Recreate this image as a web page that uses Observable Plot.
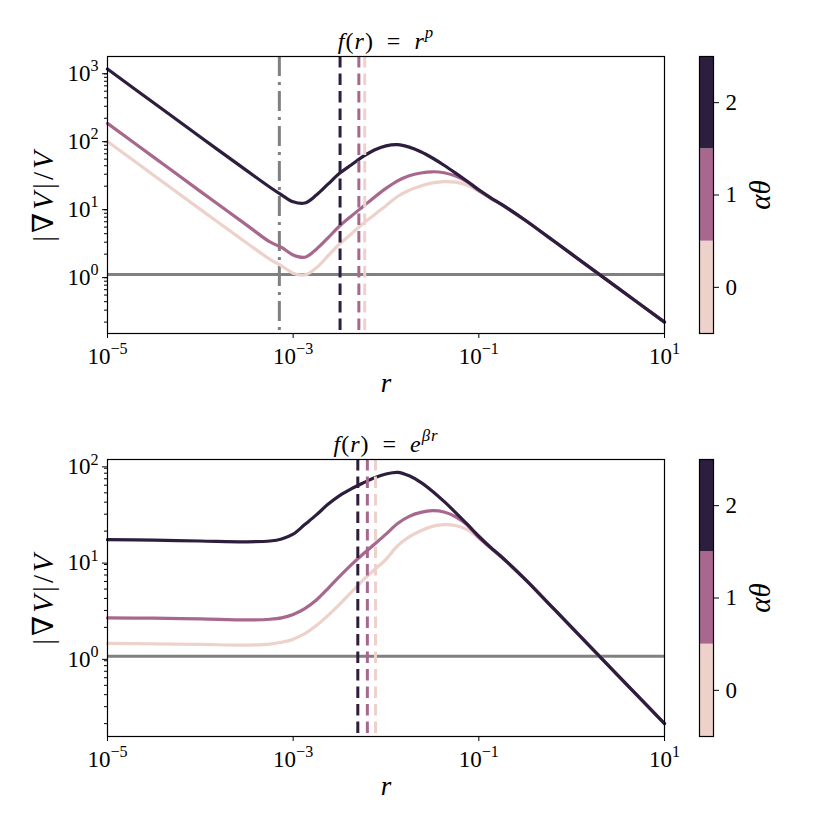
<!DOCTYPE html>
<html><head><meta charset="utf-8">
<script src="https://cdn.jsdelivr.net/npm/d3@7"></script>
<script src="https://cdn.jsdelivr.net/npm/@observablehq/plot@0.6"></script>
<style>
html,body{margin:0;padding:0;background:#fff;}
#fig{position:relative;width:830px;height:830px;overflow:hidden;background:#fff;}
#fig svg{position:absolute;overflow:visible;}
</style></head><body><div id="fig"></div>
<script>
// r grid (read positions along the log axis)
const rValues = [1e-5, 3.162e-5, 1e-4, 3.162e-4, 5.623e-4, 7.499e-4, 1e-3, 1.334e-3, 1.778e-3, 2.371e-3,
  3.162e-3, 4.217e-3, 5.623e-3, 7.499e-3, 1e-2, 1.334e-2, 1.778e-2, 2.371e-2, 3.162e-2, 4.217e-2,
  5.623e-2, 7.499e-2, 1e-1, 1.334e-1, 1.778e-1, 3.162e-1, 5.623e-1, 1, 3.162, 10];

const alphaTheta = [0, 1, 2];
const colors = ["#edd1cb", "#a8688e", "#2d1e3e"];

// Top panel: f(r) = r^p
const powerLight = [91.2, 28.8, 9.12, 2.92, 1.68, 1.35, 1.05, 0.989, 1.26, 1.88,
  2.82, 3.96, 5.62, 7.59, 10.35, 14.1, 17.4, 20.2, 22.4, 23.4,
  22.9, 20.7, 16.9, 13.5, 10.5, 6.28, 3.55, 2.0, 0.63, 0.2];
const powerMid = [168, 53.1, 16.8, 5.35, 3.02, 2.51, 1.95, 1.80, 2.37, 3.47,
  5.19, 7.24, 10.0, 13.8, 18.6, 24.0, 28.5, 31.3, 32.6, 31.6,
  28.2, 23.2, 17.2, 13.4, 10.6, 6.30, 3.56, 2.0, 0.632, 0.2];
const powerDark = [1059, 335, 106, 33.9, 19.3, 14.9, 11.8, 11.3, 14.8, 21.4,
  30.9, 41.0, 54.3, 68.1, 78.5, 81.7, 75.2, 64.3, 52.0, 40.7,
  31.2, 23.6, 17.7, 13.6, 10.7, 6.31, 3.56, 2.0, 0.632, 0.2];

// Bottom panel: f(r) = e^{beta r}
const expLight = [1.365, 1.35, 1.33, 1.31, 1.34, 1.40, 1.51, 1.72, 2.09, 2.66,
  3.47, 4.62, 6.17, 7.94, 10.2, 14.1, 17.4, 20.2, 22.4, 23.4,
  22.9, 20.7, 16.9, 13.5, 10.5, 6.28, 3.55, 2.0, 0.63, 0.2];
const expMid = [2.51, 2.49, 2.45, 2.39, 2.43, 2.51, 2.72, 3.13, 3.85, 5.07,
  6.76, 8.91, 11.5, 14.6, 18.6, 24.0, 28.5, 31.3, 32.6, 31.6,
  28.2, 23.2, 17.2, 13.4, 10.6, 6.30, 3.56, 2.0, 0.632, 0.2];
const expDark = [16.3, 16.1, 15.8, 15.5, 15.8, 16.6, 18.6, 23.4, 29.5, 38.0,
  46.8, 55.0, 63.1, 71.6, 78.5, 81.7, 75.2, 64.3, 52.0, 40.7,
  31.2, 23.6, 17.7, 13.6, 10.7, 6.31, 3.56, 2.0, 0.632, 0.2];

// vertical markers (per alpha*theta: 0, 1, 2)
const powerRc = [5.9e-3, 5.1e-3, 3.2e-3];
const powerRcut = [7.1e-4];
const expRc = [7.7e-3, 6.3e-3, 4.97e-3];
const unitLevel = [1];

const xTicks = [1e-5, 1e-3, 1e-1, 1e1];
const yTicksTop = [1, 10, 100, 1000];
const yTicksBottom = [1, 10, 100];
const cbTicks = [0, 1, 2];
const titles = ["*f*(*r*)\u2002=\u2002*r*^{*p*}", "*f*(*r*)\u2002=\u2002*e*^{*βr*}"];
const xLabel = "*r*";
const yLabel = "|∇*V*|/*V*";
const cbLabel = "*αθ*";

const FONT = "'Liberation Serif', 'DejaVu Serif', serif";
const NS = "http://www.w3.org/2000/svg";

function addParts(parent, s) {
  const re = /\*([^*]+)\*|([^*]+)/g; let m;
  while ((m = re.exec(s))) {
    const t = document.createElementNS(NS, "tspan");
    if (m[1] !== undefined) { t.setAttribute("font-style", "italic"); t.textContent = m[1]; }
    else t.textContent = m[2];
    parent.appendChild(t);
  }
}
function rich(el, s) {
  while (el.firstChild) el.removeChild(el.firstChild);
  const re = /\^\{([^}]*)\}|([^^]+)/g; let m;
  while ((m = re.exec(s))) {
    if (m[1] !== undefined) {
      const sup = document.createElementNS(NS, "tspan");
      sup.setAttribute("dy", "-0.6em");
      sup.setAttribute("font-size", "70%");
      addParts(sup, m[1]);
      el.appendChild(sup);
    } else addParts(el, m[2]);
  }
}
function richify(svg) {
  svg.querySelectorAll("text").forEach(t => {
    const s = t.textContent;
    if (s === yLabel) t.setAttribute("letter-spacing", "3");
    if (titles.includes(s)) t.setAttribute("letter-spacing", "1");
    if (/[\^*]/.test(s)) rich(t, s);
  });
}
const expFmt = d => `10^{${String(Math.round(Math.log10(d))).replace("-", "−")}}`;

function minorTicks(lo, hi) {
  const out = [];
  for (let e = -1; e <= 3; e++) for (let k = 2; k <= 9; k++) {
    const v = k * Math.pow(10, e);
    if (v >= lo && v <= hi) out.push(v);
  }
  return out;
}

function panel(series, rc, cut, yDomain, yMajor, title) {
  const rows = [];
  series.forEach((ys, k) => ys.forEach((y, i) => rows.push({r: rValues[i], y, k: alphaTheta[k]})));
  const rcRows = rc.map((r, k) => ({r, k: alphaTheta[k]}));
  const svg = Plot.plot({
    width: 700, height: 415,
    marginLeft: 107, marginRight: 36, marginTop: 56, marginBottom: 82,
    style: {fontFamily: FONT, fontSize: "23px", color: "#000", background: "transparent", overflow: "visible"},
    x: {type: "log", domain: [1e-5, 10]},
    y: {type: "log", domain: yDomain},
    color: {type: "ordinal", domain: alphaTheta, range: colors},
    marks: [
      Plot.ruleY(unitLevel, {stroke: "#808080", strokeWidth: 3}),
      cut ? Plot.ruleX(cut, {stroke: "#808080", strokeWidth: 3, strokeDasharray: "20,6,3,6"}) : null,
      Plot.line(rows, {x: "r", y: "y", z: "k", stroke: "k", strokeWidth: 3.2, curve: "catmull-rom"}),
      Plot.ruleX(rcRows, {x: "r", stroke: "k", strokeWidth: 3, strokeDasharray: "11.5,6"}),
      Plot.frame({stroke: "#000", strokeWidth: 1.2}),
      Plot.axisX({ticks: xTicks, tickSize: 5, tickPadding: 9, tickFormat: expFmt, label: null}),
      Plot.axisY({ticks: yMajor, tickSize: 5, tickPadding: 4, dy: 3, tickFormat: expFmt, label: null}),
      Plot.axisY({ticks: minorTicks(yDomain[0], yDomain[1]), tickSize: 3, tickFormat: () => "", label: null}),
      Plot.text([title], {text: d => d, frameAnchor: "top", dy: -8, lineAnchor: "bottom", textAnchor: "middle", fontSize: 24}),
      Plot.text([xLabel], {text: d => d, frameAnchor: "bottom", dy: 58, lineAnchor: "bottom", textAnchor: "middle", fontSize: 27}),
      Plot.text([yLabel], {text: d => d, frameAnchor: "left", dx: -64, rotate: -90, textAnchor: "middle", fontSize: 29})
    ]
  });
  richify(svg);
  return svg;
}

function colorbar() {
  const svg = Plot.plot({
    width: 130, height: 415,
    marginLeft: 19, marginRight: 97, marginTop: 56, marginBottom: 82,
    style: {fontFamily: FONT, fontSize: "23px", color: "#000", background: "transparent", overflow: "visible"},
    x: {domain: [0, 1], axis: null},
    y: {domain: [-0.5, 2.5], axis: null},
    color: {type: "ordinal", domain: alphaTheta, range: colors},
    marks: [
      Plot.rect(alphaTheta, {x1: 0, x2: 1, y1: d => d - 0.5, y2: d => d + 0.5, fill: d => d}),
      Plot.frame({stroke: "#000", strokeWidth: 1.2}),
      Plot.axisY({anchor: "right", ticks: cbTicks, tickSize: 5, tickPadding: 7, tickFormat: d => String(d), label: null}),
      Plot.text([cbLabel], {text: d => d, frameAnchor: "right", dx: 47, rotate: -90, textAnchor: "middle", fontSize: 29})
    ]
  });
  richify(svg);
  return svg;
}

const fig = document.getElementById("fig");
function place(svg, left, top) { svg.style.left = left + "px"; svg.style.top = top + "px"; fig.appendChild(svg); }

place(panel([powerLight, powerMid, powerDark], powerRc, powerRcut, [0.136, 1620], yTicksTop, titles[0]), 0, 0);
place(colorbar(), 680, 0);
place(panel([expLight, expMid, expDark], expRc, null, [0.147, 111], yTicksBottom, titles[1]), 0, 403);
place(colorbar(), 680, 403);
</script></body></html>
